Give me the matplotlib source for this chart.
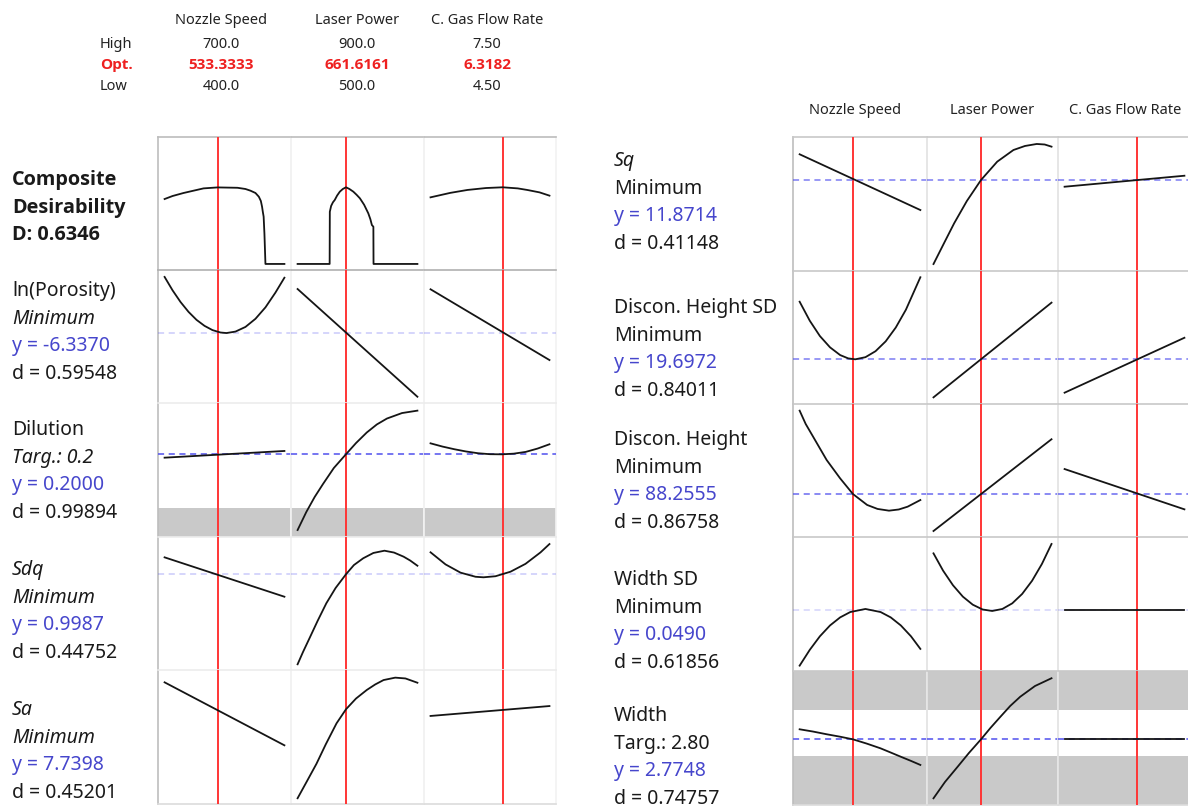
import matplotlib
matplotlib.use("Agg")
import matplotlib.pyplot as plt

plt.rcParams["font.family"] = ["Noto Sans", "DejaVu Sans"]
BOLD_FAMILY = ["Open Sans", "Noto Sans", "DejaVu Sans"]

W, H = 1188, 809

# factores e configuracao otima
FACTORS = ["Nozzle Speed", "Laser Power", "C. Gas Flow Rate"]
HIGH = [700.0, 900.0, 7.50]
OPT = [533.3333, 661.6161, 6.3182]
LOW = [400.0, 500.0, 4.50]
FMT = ["{:.1f}", "{:.1f}", "{:.2f}"]

# curvas (x no valor do fator, y = posicao relativa da resposta na linha)
# desejabilidade composta em unidades de D
COMP_NS = ([400, 420, 447.5, 497.5, 532.5, 582.5, 602.5, 615, 627.5, 636, 641,
            644, 646, 648, 650, 652.5, 700],
           [0.537, 0.562, 0.587, 0.625, 0.633, 0.630, 0.620, 0.606, 0.587,
            0.556, 0.521, 0.474, 0.430, 0.391, 0.248, 0.0, 0.0])
COMP_LP = ([500, 607, 607.6, 612, 618, 624, 632, 641, 651, 661.6, 673, 686,
            697, 708, 722, 736, 743, 748, 753, 753.5, 900],
           [0.0, 0.0, 0.432, 0.48, 0.51, 0.529, 0.566, 0.598, 0.620, 0.634,
            0.620, 0.598, 0.572, 0.543, 0.490, 0.419, 0.370, 0.322, 0.308,
            0.0, 0.0])
COMP_GF = ([4.5, 5.0, 5.43, 5.9, 6.32, 6.7, 6.94, 7.25, 7.5],
           [0.551, 0.588, 0.612, 0.628, 0.634, 0.625, 0.612, 0.592, 0.565])

POR_NS = ([400, 420, 440, 460, 480, 500, 520, 540, 555, 577.5, 602.5, 627.5,
           652.5, 677.5, 700],
          [0.948, 0.847, 0.759, 0.685, 0.625, 0.580, 0.548, 0.530, 0.526,
           0.537, 0.572, 0.633, 0.719, 0.830, 0.942])
POR_LP = ([500, 900], [0.857, 0.047])
POR_GF = ([4.5, 7.5], [0.855, 0.323])

DIL_NS = ([400, 700], [0.592, 0.642])
DIL_LP = ([500, 529.2, 557.1, 585, 621, 661.3, 695, 731, 764.6, 798.2, 848.6,
           900],
          [0.052, 0.187, 0.299, 0.396, 0.515, 0.617, 0.701, 0.780, 0.840,
           0.884, 0.925, 0.943])
DIL_GF = ([4.5, 4.8, 5.1, 5.4, 5.7, 6.0, 6.3, 6.6, 6.9, 7.2, 7.5],
          [0.699, 0.675, 0.655, 0.638, 0.625, 0.618, 0.617, 0.622, 0.635,
           0.660, 0.692])

SDQ_NS = ([400, 700], [0.847, 0.551])
SDQ_LP = ([500, 518, 540, 567, 596, 627, 661.6, 688, 719, 753, 790, 822, 854,
           876, 900],
          [0.043, 0.135, 0.240, 0.370, 0.502, 0.617, 0.720, 0.789, 0.840,
           0.880, 0.897, 0.883, 0.852, 0.823, 0.784])
SDQ_GF = ([4.5, 4.878, 5.256, 5.635, 5.836, 6.139, 6.517, 6.895, 7.273, 7.5],
          [0.885, 0.794, 0.732, 0.701, 0.697, 0.705, 0.739, 0.798, 0.884,
           0.947])

SA_NS = ([400, 700], [0.908, 0.438])
SA_LP = ([500, 530, 563, 594, 630, 661.6, 695, 731, 759, 787, 826, 860, 900],
         [0.043, 0.165, 0.300, 0.445, 0.602, 0.707, 0.787, 0.851, 0.892,
          0.925, 0.943, 0.937, 0.905])
SA_GF = ([4.5, 7.5], [0.657, 0.731])

SQ_NS = ([400, 700], [0.871, 0.455])
SQ_LP = ([500, 536, 570, 613, 661, 716, 771, 810, 850, 877, 900],
         [0.052, 0.209, 0.356, 0.522, 0.679, 0.816, 0.903, 0.933, 0.948,
          0.944, 0.928])
SQ_GF = ([4.5, 7.5], [0.629, 0.711])

DHSD_NS = ([400, 425.2, 450.3, 475.5, 500.6, 520.7, 538.3, 563.5, 588.6,
            613.8, 638.9, 664.1, 700],
           [0.769, 0.626, 0.511, 0.426, 0.368, 0.343, 0.336, 0.352, 0.397,
            0.471, 0.575, 0.709, 0.953])
DHSD_LP = ([500, 900], [0.050, 0.762])
DHSD_GF = ([4.5, 7.5], [0.085, 0.498])

DH_NS = ([400, 415, 433.5, 467.1, 500.6, 532.5, 567.7, 593.6, 622.1, 646.5,
          668.4, 700],
         [0.950, 0.850, 0.754, 0.579, 0.441, 0.323, 0.241, 0.211, 0.198,
          0.207, 0.228, 0.278])
DH_LP = ([500, 900], [0.045, 0.735])
DH_GF = ([4.5, 7.5], [0.511, 0.208])

WSD_NS = ([400, 425.2, 450.3, 475.5, 500.6, 525.8, 563.5, 601.2, 626.4, 651.5,
           676.7, 700],
          [0.040, 0.158, 0.259, 0.340, 0.400, 0.440, 0.463, 0.440, 0.400,
           0.340, 0.259, 0.165])
WSD_LP = ([500, 532.5, 566, 599.5, 633, 666.5, 699, 733.5, 767, 800.5, 834,
           867.5, 900],
          [0.878, 0.749, 0.640, 0.555, 0.495, 0.459, 0.448, 0.463, 0.505,
           0.575, 0.673, 0.799, 0.948])
WSD_GF = ([4.5, 7.5], [0.455, 0.455])

WID_NS = ([400, 433.5, 467, 500, 532.5, 567, 601, 626, 651.5, 676, 700],
          [0.565, 0.548, 0.528, 0.510, 0.490, 0.458, 0.423, 0.392, 0.360,
           0.330, 0.299])
WID_LP = ([500, 539, 582, 620, 661, 693, 727, 760, 794, 844, 900],
          [0.050, 0.172, 0.286, 0.388, 0.490, 0.575, 0.659, 0.739, 0.808,
           0.888, 0.946])
WID_GF = ([4.5, 7.5], [0.490, 0.490])

# nivel da resposta no otimo (linha tracejada) e faixas cinza
POR_OPT, DIL_OPT, SDQ_OPT = 0.529, 0.617, 0.720
SQ_OPT, DHSD_OPT, DH_OPT, WSD_OPT, WID_OPT = 0.679, 0.336, 0.323, 0.455, 0.490
DIL_BANDS = [(0.0, 0.219)]
WID_BANDS = [(0.0, 0.366), (0.706, 1.0)]

# textos das respostas: (linhas, estilos)
LEFT_LABELS = [
    (["Composite", "Desirability", "D: 0.6346"], ["b", "b", "b"]),
    (["ln(Porosity)", "Minimum", "y = -6.3370", "d = 0.59548"], ["n", "i", "y", "n"]),
    (["Dilution", "Targ.: 0.2", "y = 0.2000", "d = 0.99894"], ["n", "i", "y", "n"]),
    (["Sdq", "Minimum", "y = 0.9987", "d = 0.44752"], ["i", "i", "y", "n"]),
    (["Sa", "Minimum", "y = 7.7398", "d = 0.45201"], ["i", "i", "y", "n"]),
]
RIGHT_LABELS = [
    (["Sq", "Minimum", "y = 11.8714", "d = 0.41148"], ["i", "n", "y", "n"]),
    (["Discon. Height SD", "Minimum", "y = 19.6972", "d = 0.84011"], ["n", "n", "y", "n"]),
    (["Discon. Height", "Minimum", "y = 88.2555", "d = 0.86758"], ["n", "n", "y", "n"]),
    (["Width SD", "Minimum", "y = 0.0490", "d = 0.61856"], ["n", "n", "y", "n"]),
    (["Width", "Targ.: 2.80", "y = 2.7748", "d = 0.74757"], ["n", "n", "y", "n"]),
]

RED = "#ff3535"
BLUE = "#4646cc"
BAND = "#c9c9c9"


def cell(fig, x0, x1, y0, y1):
    return fig.add_axes([x0 / W, 1 - y1 / H, (x1 - x0) / W, (y1 - y0) / H])


def draw_row(fig, xs, y0, y1, curves, ylim, level=None, dash_alpha=1.0,
             bands=(), top_color="#ececec", left_color="#bdbdbd",
             div_color="#f2f2f2", bottom_color=None):
    for j in range(3):
        ax = cell(fig, xs[j], xs[j + 1], y0, y1)
        lo, hi = LOW[j], HIGH[j]
        m = 0.055 * (hi - lo)
        ax.set_xlim(lo - m, hi + m)
        ax.set_ylim(*ylim)
        ax.set_xticks([])
        ax.set_yticks([])
        ax.patch.set_alpha(0)
        for b in bands:
            ax.axhspan(b[0], b[1], color=BAND, lw=0, zorder=0)
        ax.axvline(OPT[j], color=RED, lw=1.4, zorder=2)
        if level is not None:
            ax.axhline(level, color="#5050ee", lw=1.1, ls=(0, (4, 3)),
                       alpha=dash_alpha, zorder=3)
        x, y = curves[j]
        ax.plot(x, y, color="#151515", lw=1.3, zorder=4,
                solid_joinstyle="round")
        ax.spines["top"].set_color(top_color)
        ax.spines["left"].set_color(left_color if j == 0 else div_color)
        ax.spines["right"].set_color(div_color)
        if bottom_color:
            ax.spines["bottom"].set_color(bottom_color)
        else:
            ax.spines["bottom"].set_visible(False)
        for s in ax.spines.values():
            s.set_linewidth(1.2)
            s.set_zorder(1)


def draw_labels(fig, x, baselines, labels, size=14):
    for base, (lines, styles) in zip(baselines, labels):
        for k, (txt, st) in enumerate(zip(lines, styles)):
            kw = dict(fontsize=size, color="#1a1a1a")
            if st == "b":
                kw["fontweight"] = "bold"
                kw["family"] = BOLD_FAMILY
                kw["fontsize"] = size + 0.3
            elif st == "i":
                kw["fontstyle"] = "italic"
            elif st == "y":
                kw["color"] = BLUE
            fig.text(x / W, 1 - (base + 27.7 * k) / H, txt, ha="left",
                     va="baseline", **kw)


fig = plt.figure(figsize=(W / 100, H / 100), dpi=100)

# ---------------- cabecalho (fatores) ----------------
hdr_x = [221, 357, 487]
for j in range(3):
    fig.text(hdr_x[j] / W, 1 - 24 / H, FACTORS[j], ha="center", va="baseline",
             fontsize=10.5, color="#222222")
    fig.text(hdr_x[j] / W, 1 - 48 / H, FMT[j].format(HIGH[j]), ha="center",
             va="baseline", fontsize=10.5, color="#222222")
    fig.text(hdr_x[j] / W, 1 - 69 / H, f"{OPT[j]:.4f}", ha="center",
             va="baseline", fontsize=11, color="#ee2020", fontweight="bold",
             family=BOLD_FAMILY)
    fig.text(hdr_x[j] / W, 1 - 90.5 / H, FMT[j].format(LOW[j]), ha="center",
             va="baseline", fontsize=10.5, color="#222222")
fig.text(100 / W, 1 - 48 / H, "High", ha="left", va="baseline",
         fontsize=10.5, color="#222222")
fig.text(100 / W, 1 - 69 / H, "Opt.", ha="left", va="baseline",
         fontsize=11, color="#ee2020", fontweight="bold", family=BOLD_FAMILY)
fig.text(100 / W, 1 - 90.5 / H, "Low", ha="left", va="baseline",
         fontsize=10.5, color="#222222")

rhdr_x = [855, 992, 1125]
for j in range(3):
    fig.text(rhdr_x[j] / W, 1 - 114 / H, FACTORS[j], ha="center",
             va="baseline", fontsize=10.5, color="#222222")

# ---------------- painel esquerdo ----------------
LX = [158, 291, 424, 556]
LY = [137, 270, 403, 537, 670, 804]
draw_row(fig, LX, LY[0], LY[1], [COMP_NS, COMP_LP, COMP_GF], (-0.05, 1.05),
         top_color="#bcbcbc")
draw_row(fig, LX, LY[1], LY[2], [POR_NS, POR_LP, POR_GF], (0, 1),
         level=POR_OPT, dash_alpha=0.3, top_color="#b0b0b0")
draw_row(fig, LX, LY[2], LY[3], [DIL_NS, DIL_LP, DIL_GF], (0, 1),
         level=DIL_OPT, dash_alpha=1.0, bands=DIL_BANDS)
draw_row(fig, LX, LY[3], LY[4], [SDQ_NS, SDQ_LP, SDQ_GF], (0, 1),
         level=SDQ_OPT, dash_alpha=0.3)
draw_row(fig, LX, LY[4], LY[5], [SA_NS, SA_LP, SA_GF], (0, 1),
         bottom_color="#dcdcdc")

# ---------------- painel direito ----------------
RX = [793, 927, 1058, 1191]
RY = [137, 271, 404, 537, 671, 805]
rc = "#c8c8c8"
rdiv = "#e6e6e6"
draw_row(fig, RX, RY[0], RY[1], [SQ_NS, SQ_LP, SQ_GF], (0, 1),
         level=SQ_OPT, dash_alpha=0.75, top_color=rc, div_color=rdiv)
draw_row(fig, RX, RY[1], RY[2], [DHSD_NS, DHSD_LP, DHSD_GF], (0, 1),
         level=DHSD_OPT, dash_alpha=0.75, top_color=rc, div_color=rdiv)
draw_row(fig, RX, RY[2], RY[3], [DH_NS, DH_LP, DH_GF], (0, 1),
         level=DH_OPT, dash_alpha=0.85, top_color=rc, div_color=rdiv)
draw_row(fig, RX, RY[3], RY[4], [WSD_NS, WSD_LP, WSD_GF], (0, 1),
         level=WSD_OPT, dash_alpha=0.25, top_color=rc, div_color=rdiv)
draw_row(fig, RX, RY[4], RY[5], [WID_NS, WID_LP, WID_GF], (0, 1),
         level=WID_OPT, dash_alpha=1.0, bands=WID_BANDS, top_color=rc,
         div_color=rdiv, bottom_color="#dcdcdc")

# ---------------- rotulos das respostas ----------------
draw_labels(fig, 12, [185, 296, 435, 575, 715], LEFT_LABELS)
draw_labels(fig, 614, [166, 313, 445, 585, 721], RIGHT_LABELS)

fig.savefig("out.png", dpi=100, facecolor="white")
